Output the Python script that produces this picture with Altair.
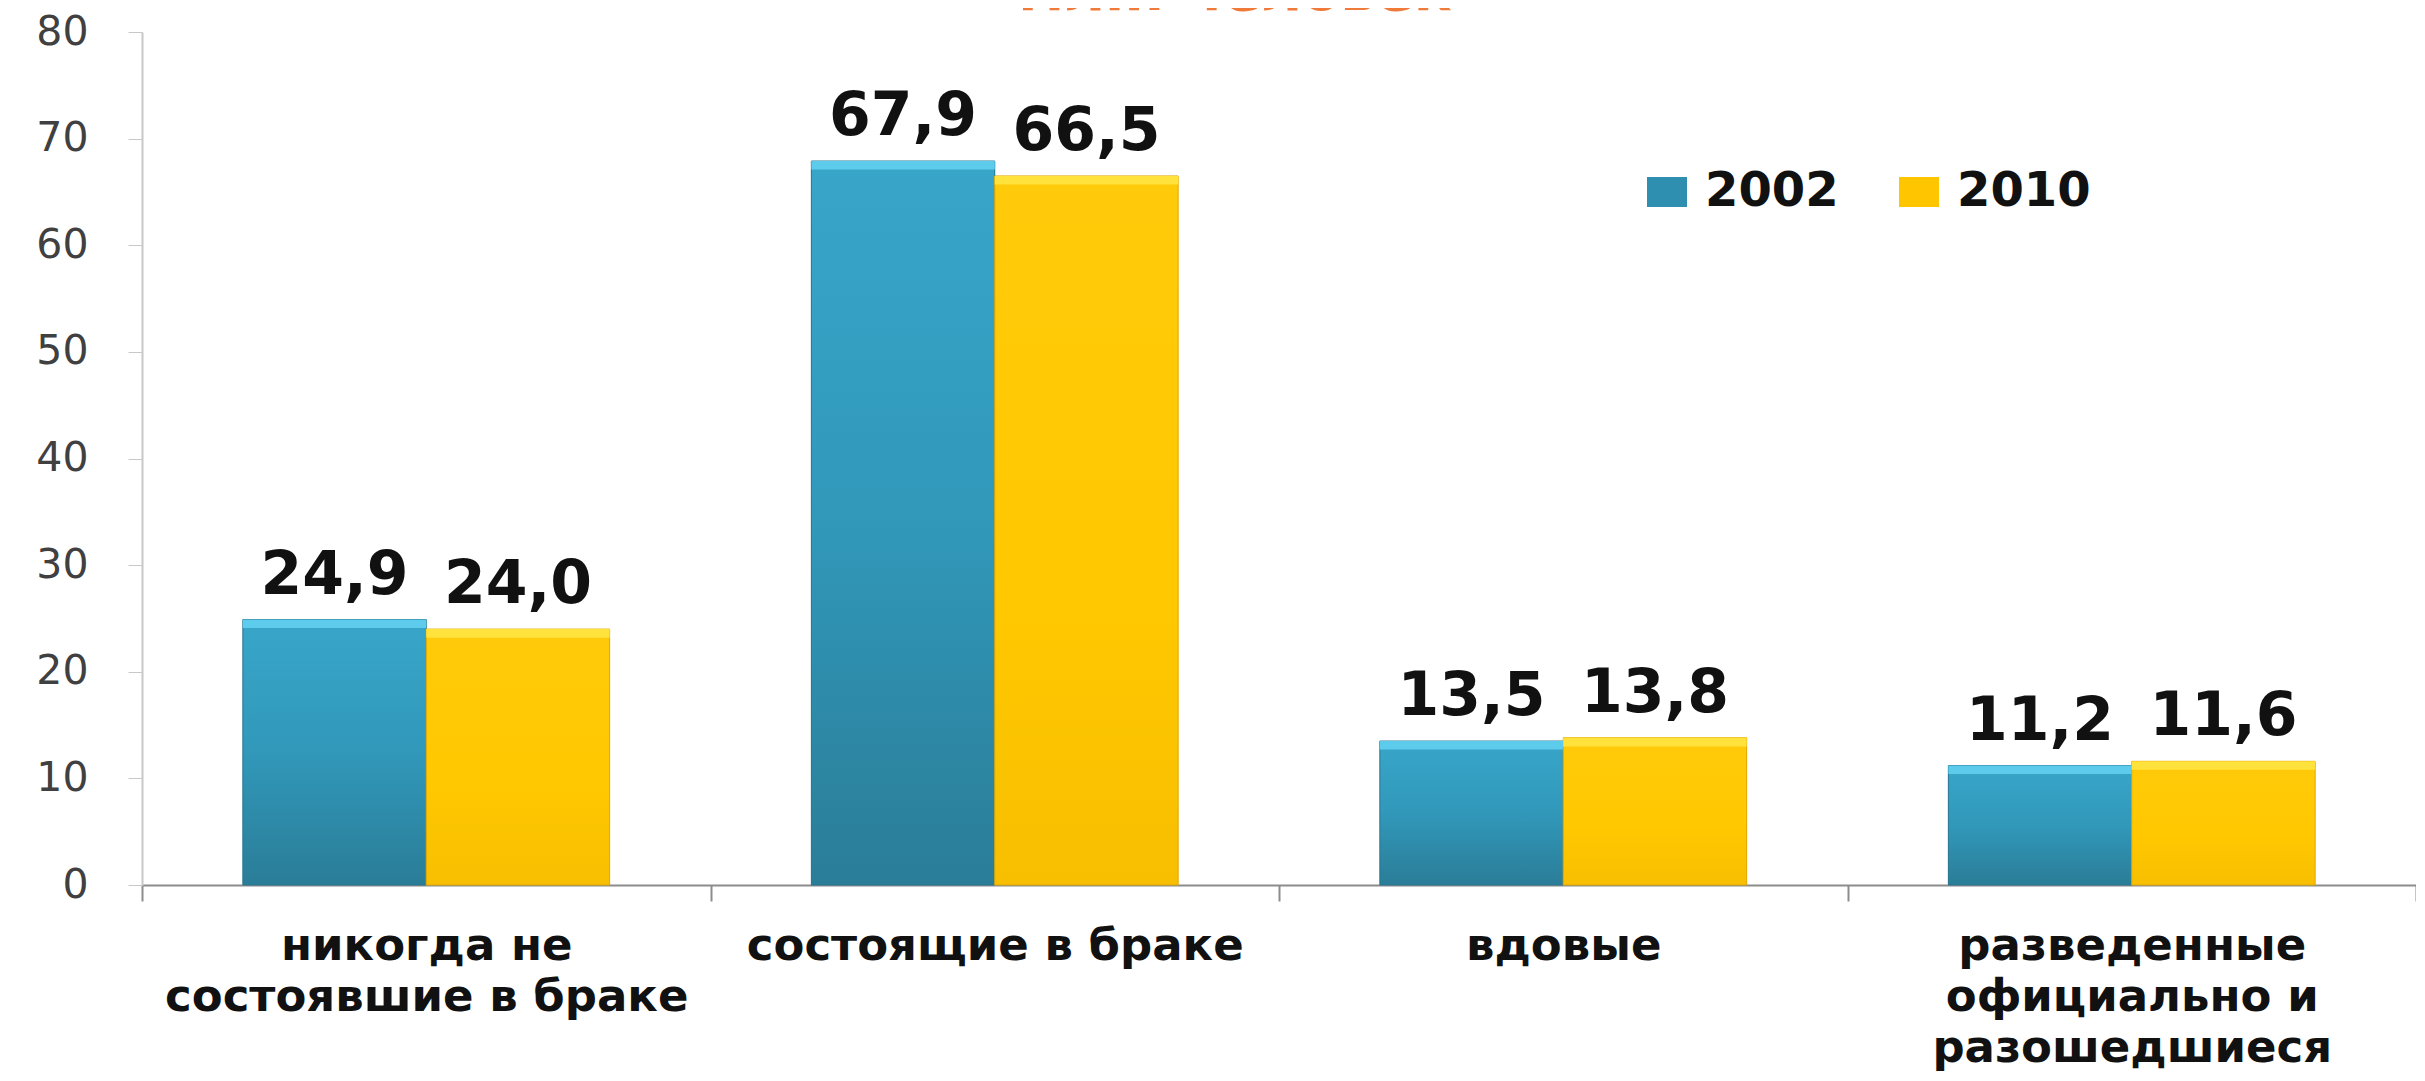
import altair as alt
import pandas as pd

categories = [
    "никогда не|состоявшие в браке",
    "состоящие в браке",
    "вдовые",
    "разведенные|официально и|разошедшиеся",
]
years = ["2002", "2010"]
values_2002 = [24.9, 67.9, 13.5, 11.2]
values_2010 = [24.0, 66.5, 13.8, 11.6]
title_text = "млн. человек"

rows = []
for c, v in zip(categories, values_2002):
    rows.append({"cat": c, "year": "2002", "value": v})
for c, v in zip(categories, values_2010):
    rows.append({"cat": c, "year": "2010", "value": v})
df = pd.DataFrame(rows)

FONT = "DejaVu Sans"

x_enc = alt.X(
    "cat:N",
    sort=categories,
    scale=alt.Scale(paddingInner=0, paddingOuter=0),
    axis=alt.Axis(
        title=None,
        labelExpr="split(datum.label, '|')",
        labelAngle=0,
        labelFont=FONT,
        labelFontWeight="bold",
        labelFontSize=45,
        labelColor="#111111",
        labelLineHeight=51,
        labelPadding=22,
        tickBand="extent",
        tickSize=16,
        tickColor="#8c8c8c",
        domainColor="#8c8c8c",
        domainWidth=2,
        tickWidth=2,
        labelLimit=1000,
    ),
)
xoff_enc = alt.XOffset(
    "year:N",
    scale=alt.Scale(domain=years, paddingOuter=0.55, paddingInner=0),
)
y_enc = alt.Y(
    "value:Q",
    scale=alt.Scale(domain=[0, 80], nice=False),
    axis=alt.Axis(
        title=None,
        values=list(range(0, 81, 10)),
        labelFont=FONT,
        labelFontSize=41,
        labelColor="#404040",
        labelPadding=40,
        tickSize=14,
        tickColor="#c8c8c8",
        domainColor="#c8c8c8",
        domainWidth=2,
        grid=False,
    ),
)

base = alt.Chart(df)

legend_bars = base.mark_bar().encode(
    x=x_enc,
    xOffset=xoff_enc,
    y=y_enc,
    color=alt.Color(
        "year:N",
        scale=alt.Scale(domain=years, range=["#2f8fb0", "#ffc600"]),
        legend=alt.Legend(
            title=None,
            orient="none",
            direction="horizontal",
            legendX=1501,
            legendY=136,
            symbolType="M-1,-0.75H1V0.75H-1Z",
            symbolSize=1600,
            symbolStrokeWidth=0,
            labelFont=FONT,
            labelFontWeight="bold",
            labelFontSize=48,
            labelColor="#111111",
            labelOffset=14,
            columnPadding=56,
            padding=0,
        ),
    ),
)

blue_grad = alt.Gradient(
    gradient="linear",
    stops=[
        alt.GradientStop(color="#38a6c9", offset=0),
        alt.GradientStop(color="#3198ba", offset=0.5),
        alt.GradientStop(color="#2a7d97", offset=1),
    ],
    x1=0, x2=0, y1=0, y2=1,
)
yellow_grad = alt.Gradient(
    gradient="linear",
    stops=[
        alt.GradientStop(color="#ffca0a", offset=0),
        alt.GradientStop(color="#ffc800", offset=0.6),
        alt.GradientStop(color="#f7bf00", offset=1),
    ],
    x1=0, x2=0, y1=0, y2=1,
)

grad_2002 = base.transform_filter(alt.datum.year == "2002").mark_bar(
    fill=blue_grad, stroke="#2a7690", strokeWidth=1
).encode(x=x_enc, xOffset=xoff_enc, y=y_enc)
grad_2010 = base.transform_filter(alt.datum.year == "2010").mark_bar(
    fill=yellow_grad, stroke="#e0a800", strokeWidth=1
).encode(x=x_enc, xOffset=xoff_enc, y=y_enc)

cap_2002 = base.transform_filter(alt.datum.year == "2002").transform_calculate(
    low="datum.value - 0.8"
).mark_bar(fill="#5ccbec").encode(
    x=x_enc, xOffset=xoff_enc, y=y_enc, y2="low:Q"
)
cap_2010 = base.transform_filter(alt.datum.year == "2010").transform_calculate(
    low="datum.value - 0.8"
).mark_bar(fill="#ffe23c").encode(
    x=x_enc, xOffset=xoff_enc, y=y_enc, y2="low:Q"
)

labels = base.transform_calculate(
    txt="replace(format(datum.value, '.1f'), '.', ',')"
).mark_text(
    font=FONT, fontWeight="bold", fontSize=60, color="#111111",
    baseline="alphabetic", dy=-26,
).encode(x=x_enc, xOffset=xoff_enc, y=y_enc, text="txt:N")

title_mark = alt.Chart(pd.DataFrame({"t": [title_text]})).mark_text(
    font=FONT, fontWeight="bold", fontSize=56, color="#f07a3a",
    baseline="alphabetic", align="center",
).encode(x=alt.value(1093), y=alt.value(-22), text="t:N")

chart = alt.layer(
    legend_bars, grad_2002, grad_2010, cap_2002, cap_2010, labels, title_mark
).properties(
    width=2274,
    height=853,
    padding={"left": 134, "top": 24, "right": 0, "bottom": 186},
    autosize=alt.AutoSizeParams(type="none"),
    background="white",
).configure_view(stroke=None)

chart.save("out.html", embed_options={"renderer": "svg", "actions": False})
